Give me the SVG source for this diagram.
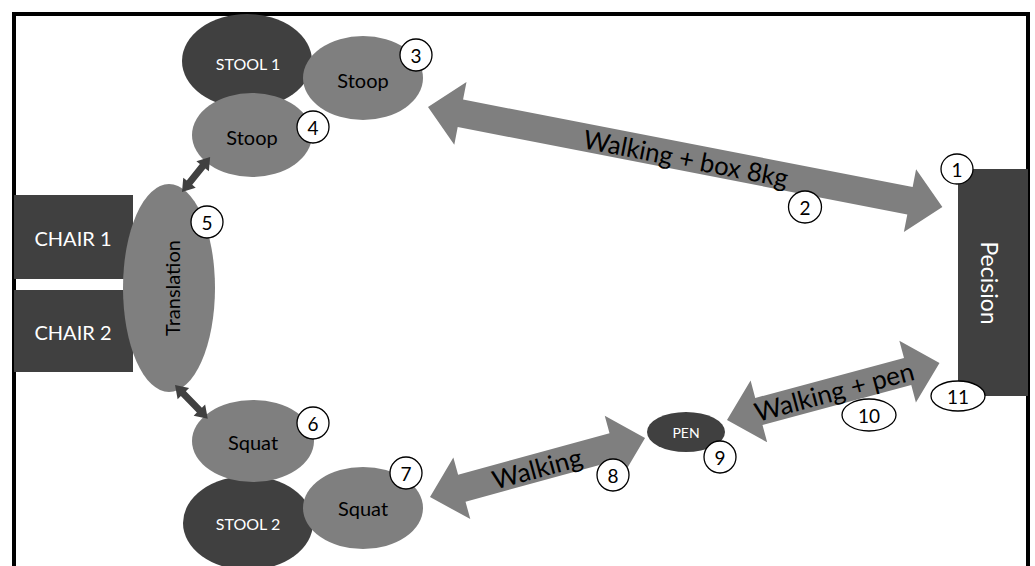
<svg xmlns="http://www.w3.org/2000/svg" width="1035" height="566" viewBox="0 0 1035 566">
<style>
.dark{fill:#404040}
.mid{fill:#7f7f7f}
.t{font-family:Lato,"Open Sans","Liberation Sans",sans-serif;text-anchor:middle;dominant-baseline:central}
.w{fill:#ffffff}
.k{fill:#000000}
.lab ellipse{fill:#ffffff;stroke:#000000;stroke-width:1.3}
.lab text{font-family:Lato,"Open Sans","Liberation Sans",sans-serif;font-size:19px;text-anchor:middle;dominant-baseline:central;fill:#000}
</style>
<rect x="0" y="0" width="1035" height="566" fill="#ffffff"/>
<path d="M14,566 V14 H1028 V566" fill="none" stroke="#000" stroke-width="4"/>

<g id="chair1"><rect class="dark" x="14" y="195" width="119" height="84"/><text class="t w" x="73" y="238" font-size="20">CHAIR 1</text></g>
<g id="chair2"><rect class="dark" x="14" y="290" width="119" height="82"/><text class="t w" x="73" y="332" font-size="20">CHAIR 2</text></g>
<g id="translation"><ellipse class="mid" cx="169" cy="288" rx="46" ry="104"/><text class="t k" transform="translate(172,288) rotate(-90)" font-size="20">Translation</text></g>
<g id="stool1"><ellipse class="dark" cx="247" cy="61" rx="65" ry="47"/><text class="t w" x="248" y="63" font-size="16">STOOL 1</text></g>
<g id="stoop3"><ellipse class="mid" cx="363" cy="78" rx="60" ry="42"/><text class="t k" x="363" y="80" font-size="20">Stoop</text></g>
<g id="stoop4"><ellipse class="mid" cx="252" cy="135" rx="60" ry="42"/><text class="t k" x="252" y="137" font-size="20">Stoop</text></g>
<g id="stool2"><ellipse class="dark" cx="248" cy="523" rx="65" ry="47"/><text class="t w" x="248" y="523" font-size="16">STOOL 2</text></g>
<g id="squat6"><ellipse class="mid" cx="253" cy="441" rx="61" ry="41"/><text class="t k" x="253" y="442" font-size="20">Squat</text></g>
<g id="squat7"><ellipse class="mid" cx="363" cy="508" rx="60" ry="41"/><text class="t k" x="363" y="508" font-size="20">Squat</text></g>
<g id="pen"><ellipse class="dark" cx="686" cy="432" rx="39" ry="20"/><text class="t w" x="686" y="432" font-size="14">PEN</text></g>
<g id="pecision"><rect class="dark" x="958" y="169" width="70" height="227"/><text class="t w" transform="translate(990,283) rotate(90)" font-size="23">Pecision</text></g>

<g id="connectors">
<polygon class="mid" transform="translate(428,107) rotate(11)" points="0,0 33,-32 33,-14 491,-14 491,-32 524,0 491,32 491,14 33,14 33,32"/>
<text class="t k" transform="translate(686,158) rotate(11)" font-size="26" textLength="208" lengthAdjust="spacingAndGlyphs">Walking + box 8kg</text>
<polygon class="mid" transform="translate(430,497) rotate(-15.35)" points="0,0 33,-32 33,-14 190,-14 190,-32 223,0 190,32 190,14 33,14 33,32"/>
<text class="t k" transform="translate(537,468) rotate(-15.35)" font-size="26" textLength="92" lengthAdjust="spacingAndGlyphs">Walking</text>
<polygon class="mid" transform="translate(727,420) rotate(-15)" points="0,0 33,-32 33,-14 187,-14 187,-32 220,0 187,32 187,14 33,14 33,32"/>
<text class="t k" transform="translate(834,391) rotate(-15)" font-size="26" textLength="164" lengthAdjust="spacingAndGlyphs">Walking + pen</text>
<polygon class="dark" transform="translate(182,192) rotate(-51.3)" points="0,0 12,-8 12,-3.5 33,-3.5 33,-8 45,0 33,8 33,3.5 12,3.5 12,8"/>
<polygon class="dark" transform="translate(175,385) rotate(45.8)" points="0,0 12,-8 12,-3.5 35,-3.5 35,-8 47,0 35,8 35,3.5 12,3.5 12,8"/>
</g>

<g id="label1" class="lab"><ellipse cx="957" cy="169" rx="16" ry="15"/><text x="957" y="169">1</text></g>
<g id="label2" class="lab"><ellipse cx="805" cy="207" rx="16.5" ry="16"/><text x="805" y="207">2</text></g>
<g id="label3" class="lab"><ellipse cx="416" cy="55" rx="16" ry="16"/><text x="416" y="55">3</text></g>
<g id="label4" class="lab"><ellipse cx="313" cy="127" rx="16" ry="16"/><text x="313" y="127">4</text></g>
<g id="label5" class="lab"><ellipse cx="207" cy="222" rx="16" ry="16"/><text x="207" y="222">5</text></g>
<g id="label6" class="lab"><ellipse cx="313" cy="423" rx="16" ry="16"/><text x="313" y="423">6</text></g>
<g id="label7" class="lab"><ellipse cx="406" cy="473" rx="16" ry="16"/><text x="406" y="473">7</text></g>
<g id="label8" class="lab"><ellipse cx="613" cy="475" rx="16" ry="16"/><text x="613" y="475">8</text></g>
<g id="label9" class="lab"><ellipse cx="720" cy="457" rx="16" ry="16"/><text x="720" y="457">9</text></g>
<g id="label10" class="lab"><ellipse cx="869" cy="415" rx="27" ry="16"/><text x="869" y="415">10</text></g>
<g id="label11" class="lab"><ellipse cx="958" cy="396" rx="27" ry="15"/><text x="958" y="396">11</text></g>
</svg>
